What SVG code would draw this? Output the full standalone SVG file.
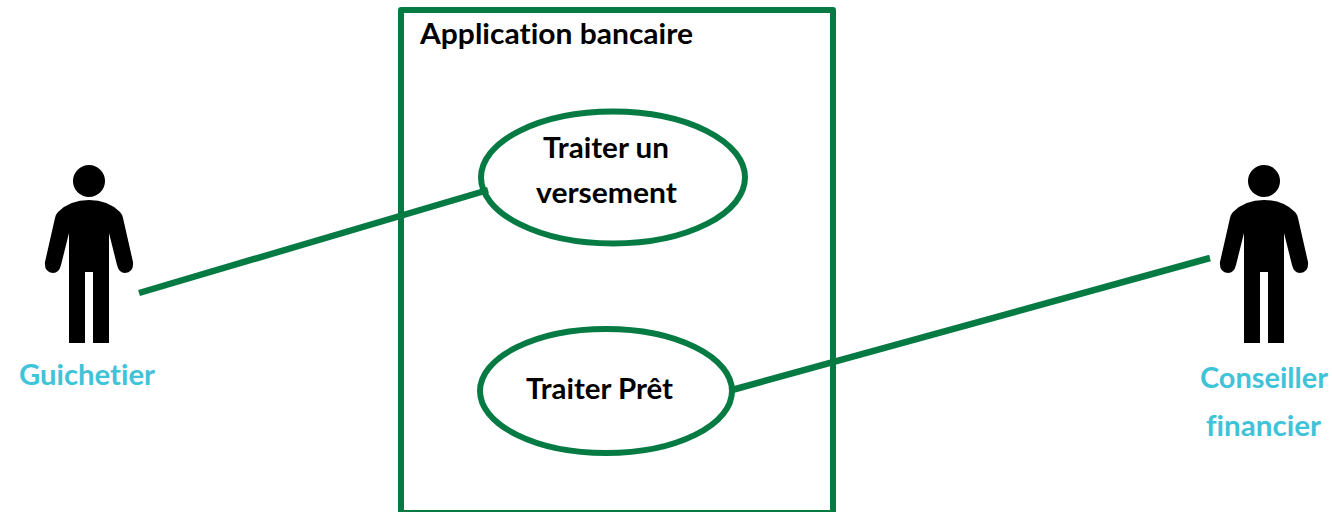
<svg xmlns="http://www.w3.org/2000/svg" width="1332" height="512" viewBox="0 0 1332 512">
<style>
.g{fill:none;stroke:#057a43;stroke-width:6;stroke-linejoin:round}
.c{fill:none;stroke:#057a43;stroke-width:6.5}
.e{fill:#fff;stroke:#057a43;stroke-width:6}
text{font-family:Lato,"Noto Sans",sans-serif;font-weight:700;font-size:29px;fill:#000;font-variant-ligatures:none}
.a{fill:#3fc3d8}
</style>
<defs>
<path id="person" d="M0 20Q-19 20 -31 32Q-33 34 -34 38L-44 82Q-45 92 -36 93Q-30 93 -28 85L-20 53V163H-4V92H4V163H20V53L28 85Q30 93 36 93Q45 92 44 82L34 38Q33 34 31 32Q19 20 0 20Z"/>
</defs>
<rect width="1332" height="512" fill="#fff"/>
<g id="system"><rect class="g" x="401" y="10" width="432" height="503"/><text x="420" y="44" textLength="273" lengthAdjust="spacingAndGlyphs">Application bancaire</text></g>
<g id="uc1"><ellipse class="e" cx="613" cy="177.5" rx="132" ry="66"/><text x="543" y="158" textLength="126" lengthAdjust="spacingAndGlyphs">Traiter un</text><text x="536" y="203" textLength="141" lengthAdjust="spacingAndGlyphs">versement</text></g>
<g id="uc2"><ellipse class="e" cx="606" cy="391" rx="126" ry="62"/><text x="526" y="399" textLength="147" lengthAdjust="spacingAndGlyphs">Traiter Prêt</text></g>
<g id="connectors"><path class="c" d="M139 293L488 190"/><path class="c" d="M732 390L1210 258"/></g>
<g id="actor1"><circle cx="89" cy="181" r="16"/><use href="#person" x="89" y="180"/><text class="a" x="19" y="385" textLength="136" lengthAdjust="spacingAndGlyphs">Guichetier</text></g>
<g id="actor2"><circle cx="1264" cy="181" r="16"/><use href="#person" x="1264" y="180"/><text class="a" x="1200" y="388" textLength="128" lengthAdjust="spacingAndGlyphs">Conseiller</text><text class="a" x="1206" y="436" textLength="115" lengthAdjust="spacingAndGlyphs">financier</text></g>
</svg>
